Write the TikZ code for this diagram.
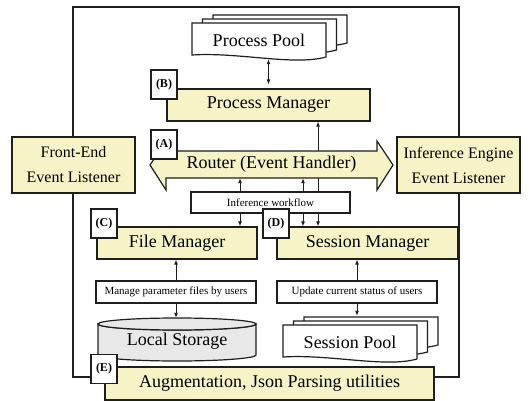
\documentclass[tikz,border=0pt]{standalone}
\usepackage{fontspec}
\setmainfont{Liberation Serif}
\usetikzlibrary{arrows.meta}

\definecolor{modfill}{RGB}{246,244,198}
\definecolor{diskfill}{RGB}{232,232,232}
\definecolor{ink}{RGB}{30,30,30}

\tikzset{
  module/.style={draw=ink, fill=modfill, line width=1.2pt, inner sep=0pt,
    font=\fontsize{18}{20}\selectfont},
  listener/.style={module, align=center, font=\fontsize{16}{25}\selectfont,
    minimum width=123pt, minimum height=56pt},
  tag/.style={draw=ink, fill=white, line width=1.1pt, inner sep=0pt,
    minimum width=26pt, minimum height=29pt, font=\fontsize{12}{14}\selectfont\bfseries},
  note/.style={draw=ink, fill=white, line width=1.2pt, inner sep=0pt,
    minimum width=160pt, minimum height=22pt, font=\fontsize{11}{13}\selectfont},
  caption/.style={inner sep=0pt, font=\fontsize{18}{20}\selectfont},
  link/.style={draw=ink, line width=0.9pt, ->},
  % three stacked pages with a wavy lower edge, the back ones a bit shorter
  pics/pagestack/.style={code={
    \foreach \d in {2,1,0}
      \draw[draw=ink, fill=white, line width=1.2pt, shift={(10.5*\d,-4*\d)}]
        (-67,-17) -- (67,-17) -- (67,{17-3*\d})
        .. controls (35,{26-3*\d}) and (-20,{12-3*\d}) .. (-67,{15-3*\d}) -- cycle;
  }}
}

\begin{document}
\begin{tikzpicture}[x=1pt, y=-1pt, line join=miter, >={Latex[length=5pt,width=4pt]}]
\useasboundingbox (0,0) rectangle (530,401);

% outer frame
\draw[draw=ink, line width=1.4pt] (73,7) rectangle (459,377);

% process side
\pic at (259,40) {pagestack};
\node[caption, minimum width=134pt, minimum height=38pt] (pool) at (259,40) {Process Pool};
\node[module, minimum width=203pt, minimum height=32pt] (pmgr) at (268.5,105) {Process Manager};
\node[tag] (tagB) at (164,84.5) {(B)};
\draw[link, <->] (pmgr.north |- pool.south) -- (pmgr.north) [shorten >=4pt];

% listeners
\node[listener] (front) at (73.5,165) {Front-End\\Event Listener};
\node[listener] (engine) at (458.5,165) {Inference Engine\\Event Listener};

% workflow box and the line up to the process manager
\node[note, minimum width=159pt, minimum height=21pt] (flow) at (270.5,202.5) {Inference workflow};
\draw[link] ([xshift=47.5pt]flow.north) coordinate (tap) -- (tap |- pmgr.south);

% router
\draw[draw=ink, fill=modfill, line width=1.2pt]
  (150,165) -- (166,141) -- (166,151) -- (377,151) -- (377,141) -- (393,165)
  -- (377,190) -- (377,178) -- (166,178) -- (166,190) -- cycle;
\node[caption, minimum width=211pt, minimum height=27pt] (router) at (271.5,164.5) {Router (Event Handler)};
\node[tag] (tagA) at (164,144.5) {(A)};
\foreach \dx in {-30.5,32.5}
  \draw[link] ([xshift=\dx pt]flow.north) coordinate (tap) -- (tap |- router.south);

% managers
\node[module, minimum width=160pt, minimum height=32pt] (fmgr) at (177,243) {File Manager};
\node[tag] (tagC) at (104,223.5) {(C)};
\node[module, minimum width=181pt, minimum height=32pt] (smgr) at (367.5,243) {Session Manager};
\node[tag] (tagD) at (276,223.5) {(D)};
\foreach \dx/\dst in {-30.5/fmgr,32.5/smgr,47.5/smgr}
  \draw[link] ([xshift=\dx pt]flow.south) coordinate (tap) -- (tap |- \dst.north);

% notes
\node[note] (files) at (176,292) {Manage parameter files by users};
\node[note] (status) at (357,292) {Update current status of users};
\draw[link] (files.north) -- (files.north |- fmgr.south);
\draw[link] (status.north) -- (status.north |- smgr.south);

% local storage
\draw[draw=ink, fill=diskfill, line width=1.2pt]
  (98,324) -- (98,355) arc[start angle=180, end angle=0, x radius=79, y radius=6]
  -- (256,324) arc[start angle=0, end angle=180, x radius=79, y radius=6] -- cycle;
\draw[draw=ink, fill=diskfill, line width=1.2pt] (177,324) ellipse[x radius=79, y radius=6];
\node[caption, minimum width=158pt, minimum height=46pt] (store) at (177,341) {Local Storage};
\draw[link] (files.south) -- (files.south |- store.north);

% session pool
\pic at (350,342) {pagestack};
\node[caption, minimum width=134pt, minimum height=52pt] (spool) at (350,342) {Session Pool};
\draw[link] (status.south) -- (status.south |- spool.north);

% utilities
\node[module, minimum width=329pt, minimum height=33pt] (utils) at (269.5,383.5) {Augmentation, Json Parsing utilities};
\node[tag] (tagE) at (104,369) {(E)};

\end{tikzpicture}
\end{document}
